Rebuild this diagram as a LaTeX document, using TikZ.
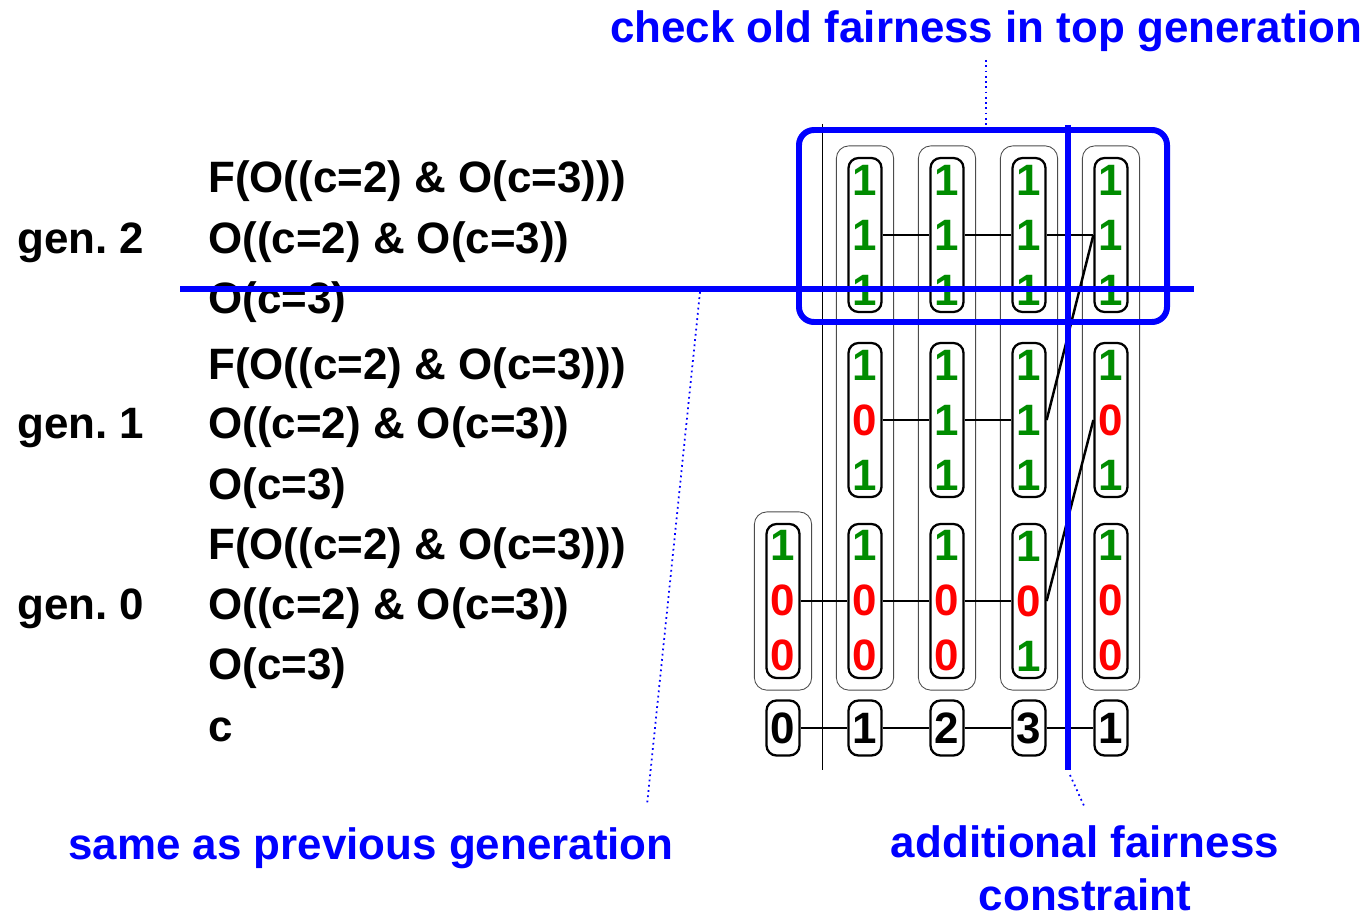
\documentclass[tikz,border=0pt]{standalone}
\usepackage{fontspec}
\setmainfont{Liberation Sans}
\usetikzlibrary{fit}

\definecolor{okgreen}{RGB}{0,140,0}
\definecolor{cutblue}{RGB}{0,0,255}
\newcommand{\bone}{\textcolor{okgreen}{1}}
\newcommand{\bzero}{\textcolor{red}{0}}

\begin{document}
\begin{tikzpicture}[
    x=0.02cm, y=-0.02cm,
    every node/.style={font=\fontsize{25}{30}\selectfont\bfseries},
    txt/.style={anchor=base west, inner sep=0pt},
    cell/.style={draw, line width=1.3pt, rounded corners=0.2cm, minimum width=0.66cm,
        minimum height=3.08cm, inner sep=0pt, align=center,
        font=\fontsize{25}{31.3}\selectfont\bfseries},
    cnt/.style={draw, line width=1.3pt, rounded corners=0.2cm, minimum width=0.66cm,
        minimum height=1.1cm, inner sep=0pt},
    colbox/.style={draw=black!70, line width=0.5pt, rounded corners=0.25cm, inner sep=0.22cm},
    link/.style={line width=1.4pt},
    cut/.style={draw=cutblue, line width=3.4pt},
    callout/.style={draw=cutblue, dotted, line width=1pt},
    note/.style={text=cutblue}
]
\useasboundingbox (0,0) rectangle (1366,919);

% formulas per generation
\node[txt] (gen2) at (17,253) {gen.\ 2};
\node[txt] (f2a) at (208,193) {F(O((c=2) \& O(c=3)))};
\node[txt] (f2b) at (208,253) {O((c=2) \& O(c=3))};
\node[txt] (f2c) at (208,313) {O(c=3)};

\node[txt] (gen1) at (17,438) {gen.\ 1};
\node[txt] (f1a) at (208,379) {F(O((c=2) \& O(c=3)))};
\node[txt] (f1b) at (208,438) {O((c=2) \& O(c=3))};
\node[txt] (f1c) at (208,499) {O(c=3)};

\node[txt] (gen0) at (17,619) {gen.\ 0};
\node[txt] (f0a) at (208,559) {F(O((c=2) \& O(c=3)))};
\node[txt] (f0b) at (208,619) {O((c=2) \& O(c=3))};
\node[txt] (f0c) at (208,679) {O(c=3)};
\node[txt] (cvar) at (208,741) {c};

% bit vectors
\node[cell] (g2c1) at (865,235) {\bone\\\bone\\\bone};
\node[cell] (g2c2) at (947,235) {\bone\\\bone\\\bone};
\node[cell] (g2c3) at (1029,235) {\bone\\\bone\\\bone};
\node[cell] (g2c4) at (1111,235) {\bone\\\bone\\\bone};

\node[cell] (g1c1) at (865,420) {\bone\\\bzero\\\bone};
\node[cell] (g1c2) at (947,420) {\bone\\\bone\\\bone};
\node[cell] (g1c3) at (1029,420) {\bone\\\bone\\\bone};
\node[cell] (g1c4) at (1111,420) {\bone\\\bzero\\\bone};

\node[cell] (g0c0) at (783,601) {\bone\\\bzero\\\bzero};
\node[cell] (g0c1) at (865,601) {\bone\\\bzero\\\bzero};
\node[cell] (g0c2) at (947,601) {\bone\\\bzero\\\bzero};
\node[cell] (g0c3) at (1029,601) {\bone\\\bzero\\\bone};
\node[cell] (g0c4) at (1111,601) {\bone\\\bzero\\\bzero};

% values of c
\node[cnt] (c0) at (783,728) {0};
\node[cnt] (c1) at (865,728) {1};
\node[cnt] (c2) at (947,728) {2};
\node[cnt] (c3) at (1029,728) {3};
\node[cnt] (c4) at (1111,728) {1};

% states
\node[colbox, fit=(g0c0)] (s0) {};
\node[colbox, fit=(g2c1)(g0c1)] (s1) {};
\node[colbox, fit=(g2c2)(g0c2)] (s2) {};
\node[colbox, fit=(g2c3)(g0c3)] (s3) {};
\node[colbox, fit=(g2c4)(g0c4)] (s4) {};

\draw[line width=0.5pt] (822,124) -- (822,770);

% path links
\draw[link] (g2c1) -- (g2c2);
\draw[link] (g2c2) -- (g2c3);
\draw[link] (g2c3.east) -- (g2c4.west);
\draw[link] (g2c4.west) -- (g1c3.east);

\draw[link] (g1c1) -- (g1c2);
\draw[link] (g1c2) -- (g1c3);
\draw[link] (g1c4.west) -- (g0c3.east);

\draw[link] (g0c0) -- (g0c1);
\draw[link] (g0c1) -- (g0c2);
\draw[link] (g0c2) -- (g0c3);

\draw[link] (c0) -- (c1);
\draw[link] (c1) -- (c2);
\draw[link] (c2) -- (c3);
\draw[link] (c3) -- (c4);

% cuts
\draw[cut] (180,289) -- (1194,289);
\draw[cut] (1068,125) -- (1068,770);
\draw[cut, rounded corners=0.3cm] (799,130) rectangle (1167,322);

% notes
\node[note] (toplbl) at (986,31) {check old fairness in top generation};
\node[note] (samelbl) at (371,848) {same as previous generation};
\node[note, align=center, font=\fontsize{25}{30.2}\selectfont\bfseries] (addlbl) at (1085,868)
    {additional fairness\\constraint};

\coordinate (toptip) at (986,60);
\coordinate (boxtip) at (986,127);
\coordinate (hcuttip) at (700,292);
\coordinate (sametip) at (647,805);
\coordinate (vcuttip) at (1070,775);
\coordinate (addtip) at (1085,808);
\draw[callout] (toptip) -- (boxtip);
\draw[callout] (hcuttip) -- (sametip);
\draw[callout] (vcuttip) -- (addtip);
\end{tikzpicture}
\end{document}
